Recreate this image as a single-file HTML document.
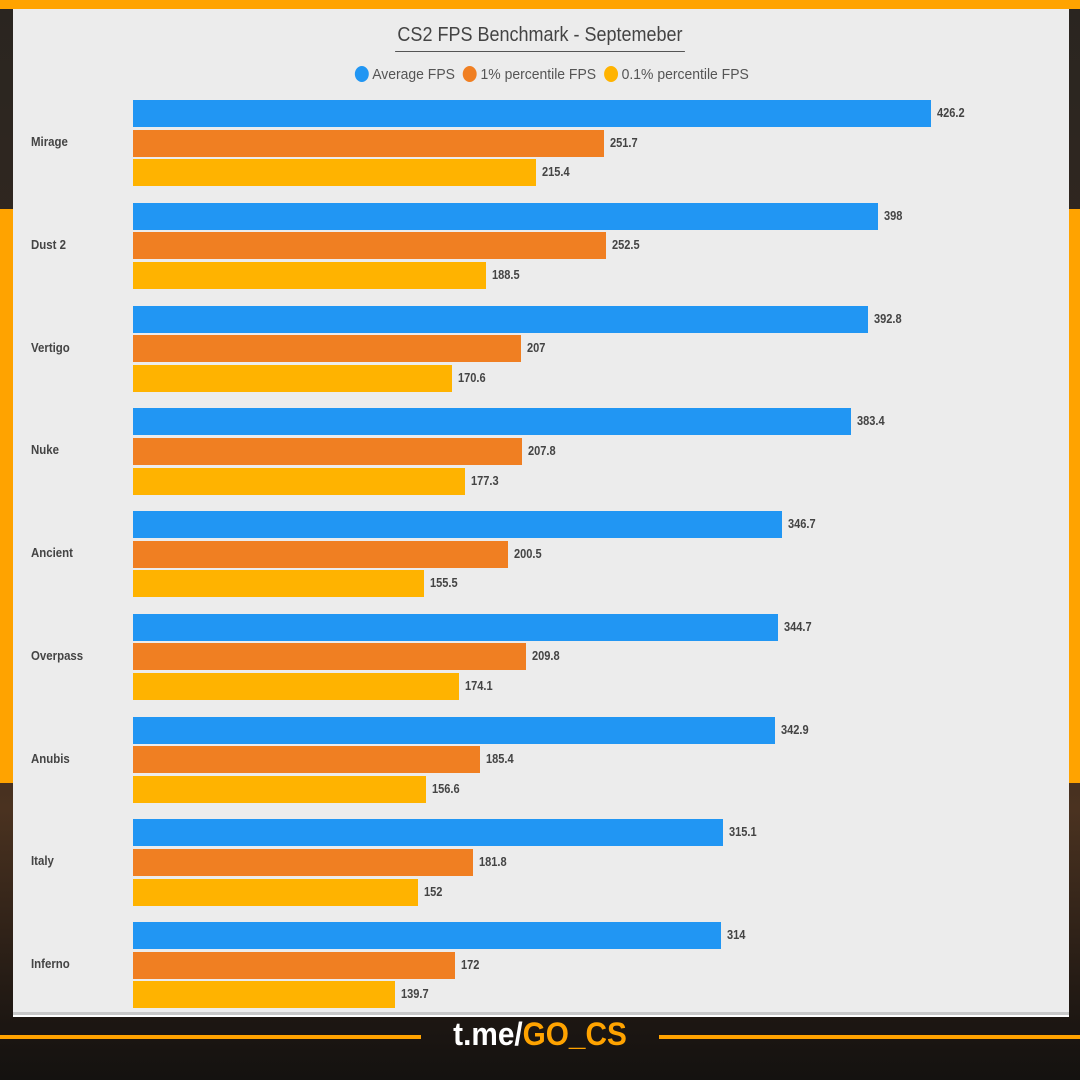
<!DOCTYPE html>
<html><head><meta charset="utf-8"><style>
*{margin:0;padding:0;box-sizing:border-box}
body{width:1080px;height:1080px;position:relative;overflow:hidden;background:linear-gradient(180deg,#2a2520 0%,#3a2a1e 60%,#4a3220 75%,#1c1612 95%,#141210 100%);font-family:"Liberation Sans",sans-serif}
.a{position:absolute}
.bar{position:absolute;left:133px;height:27px}
.v{position:absolute;font-size:13px;font-weight:bold;color:#444;transform:scaleX(0.85);transform-origin:left center;line-height:27px}
.l{position:absolute;left:31px;font-size:13px;font-weight:bold;color:#444;transform:scaleX(0.88);transform-origin:left center}
</style></head><body>
<div class="a" style="left:0;top:0;width:1080px;height:9px;background:#ffa300"></div>
<div class="a" style="left:0;top:209px;width:13px;height:574px;background:#ffa300"></div>
<div class="a" style="left:1069px;top:209px;width:11px;height:574px;background:#ffa300"></div>
<div class="a" style="left:13px;top:9px;width:1056px;height:1008px;background:#ececec;border-bottom:2px solid #fff"></div>
<div class="a" style="left:13px;top:1012px;width:1056px;height:3px;background:#c8c8c8"></div>
<div class="a" style="left:0;top:24px;width:1080px;text-align:center;font-size:20px;color:#444;transform:scaleX(0.9)">
<span style="display:inline-block;border-bottom:1px solid #555;padding:0 3px 4px">CS2 FPS Benchmark - Septemeber</span></div>
<div class="a" style="left:12px;top:66px;width:1080px;text-align:center;font-size:15px;color:#555;transform:scaleX(0.93)">
<span style="display:inline-block;width:15px;height:16px;border-radius:50%;background:#2196f3;vertical-align:-3px"></span> Average FPS&nbsp;
<span style="display:inline-block;width:15px;height:16px;border-radius:50%;background:#f07f22;vertical-align:-3px"></span> 1% percentile FPS&nbsp;
<span style="display:inline-block;width:15px;height:16px;border-radius:50%;background:#ffb300;vertical-align:-3px"></span> 0.1% percentile FPS</div>
<div id="c"></div>
<div class="a" style="left:0;top:1035px;width:421px;height:4px;background:#ffa300"></div>
<div class="a" style="left:659px;top:1035px;width:421px;height:4px;background:#ffa300"></div>
<div class="a" style="left:400px;top:1016px;width:280px;text-align:center;font-size:32px;font-weight:bold;color:#fff;transform:scaleX(0.93)">t.me/<span style="color:#ffa300">GO_CS</span></div>
<script>
const d=[["Mirage",426.2,251.7,215.4],["Dust 2",398,252.5,188.5],["Vertigo",392.8,207,170.6],["Nuke",383.4,207.8,177.3],["Ancient",346.7,200.5,155.5],["Overpass",344.7,209.8,174.1],["Anubis",342.9,185.4,156.6],["Italy",315.1,181.8,152],["Inferno",314,172,139.7]];
const col=["#2196f3","#f07f22","#ffb300"];let h="";
d.forEach((r,i)=>{const y0=100+i*102.75;
h+=`<div class="l" style="top:${y0+34}px">${r[0]}</div>`;
for(let k=0;k<3;k++){const w=r[k+1]*1.8724,y=y0+k*29.7;
h+=`<div class="bar" style="top:${y}px;width:${w}px;background:${col[k]}"></div><div class="v" style="top:${y-1}px;left:${133+w+6}px">${r[k+1]}</div>`;}});
document.getElementById("c").innerHTML=h;
</script>
</body></html>
